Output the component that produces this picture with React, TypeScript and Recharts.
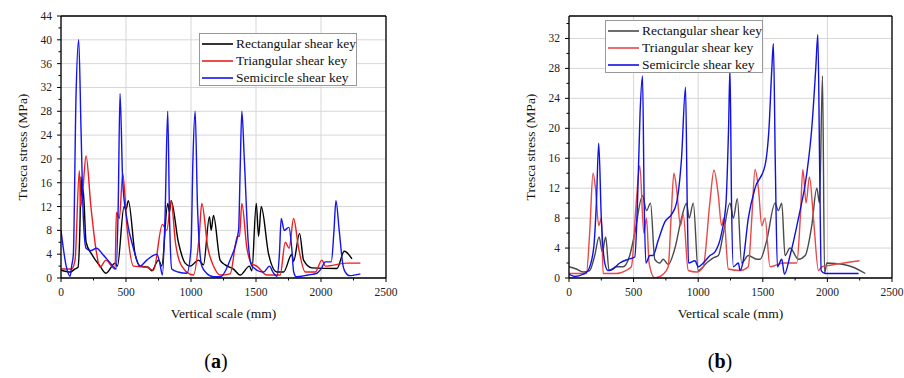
import React from "react";
import {
  LineChart,
  Line,
  XAxis,
  YAxis,
  CartesianGrid,
  ReferenceLine,
} from "recharts";

type Pt = [number, number];

// (a) stress along the vertical scale, mm -> MPa
const rectA: Pt[] = [
  [0, 1.3], [70, 1.0], [106, 1.5], [131, 1.8], [145, 8], [154, 17], [164, 13], [170, 15],
  [193, 6], [236, 4], [300, 2], [346, 0.8], [416, 2.5], [434, 2], [485, 12], [500, 11.5],
  [518, 13], [570, 4], [608, 2], [672, 1.8], [698, 1.2], [750, 3], [775, 2], [821, 12.5],
  [834, 11], [847, 13], [903, 6], [955, 2.5], [993, 2], [1058, 3], [1096, 2.2], [1142, 10.3],
  [1155, 8], [1173, 10.5], [1224, 3], [1263, 2.2], [1327, 1.5], [1378, 0.5], [1450, 2],
  [1468, 1.2], [1502, 12.5], [1520, 7], [1540, 12], [1597, 4], [1661, 1], [1712, 1],
  [1776, 4], [1789, 2.8], [1835, 7.5], [1866, 3], [1930, 1.7], [2123, 1.6], [2179, 4.5],
  [2238, 3.2],
];
const triA: Pt[] = [
  [0, 1.5], [82, 1.5], [108, 3], [141, 18], [152, 12], [165, 14], [193, 20.5], [230, 12],
  [275, 4], [300, 1.8], [346, 3], [390, 2], [416, 1.5], [426, 11], [449, 10], [475, 17.5],
  [510, 8], [557, 2], [660, 1.8], [711, 1.3], [780, 9], [814, 8], [847, 13], [880, 6],
  [929, 2], [1019, 0.5], [1063, 7], [1083, 12.5], [1130, 5], [1173, 2], [1224, 0.5],
  [1301, 0.7], [1358, 7], [1373, 7], [1391, 12.5], [1430, 5], [1468, 2.4], [1506, 2],
  [1584, 0.5], [1686, 0.5], [1725, 6], [1755, 5], [1789, 10], [1828, 5], [1879, 1],
  [1956, 1], [2007, 3], [2033, 2], [2200, 2.5], [2303, 2.5],
];
const semiA: Pt[] = [
  [0, 8], [40, 2], [70, 0.3], [82, 2], [95, 4], [115, 30], [136, 40], [154, 25], [172, 10],
  [193, 5], [230, 4.6], [274, 5], [320, 4], [380, 2.5], [424, 1.5], [440, 12], [454, 31],
  [475, 16], [506, 10], [557, 5], [608, 2], [660, 3], [737, 4], [760, 2.5], [780, 0.5],
  [800, 10], [821, 28], [835, 10], [852, 1.5], [900, 1], [968, 0.8], [1000, 5], [1015, 20],
  [1032, 28], [1050, 12], [1083, 2], [1120, 0.8], [1173, 0.2], [1224, 0.2], [1300, 3],
  [1366, 8], [1378, 18], [1391, 28], [1410, 20], [1440, 6], [1468, 2], [1558, 1],
  [1604, 2], [1630, 1], [1661, 0.3], [1680, 4], [1694, 10], [1717, 8], [1753, 8.5],
  [1775, 5], [1790, 1], [1810, 0.2], [1900, 0.5], [1969, 0.8], [2000, 1.5], [2033, 2.7],
  [2079, 2.7], [2100, 8], [2115, 13], [2140, 8], [2170, 2], [2187, 1], [2220, 0.4],
  [2303, 0.7],
];

// (b)
const rectB: Pt[] = [
  [0, 1.5], [57, 1.2], [109, 0.8], [160, 1], [199, 3], [233, 5.5], [258, 3.5], [284, 5.5],
  [310, 1], [367, 1.5], [419, 1.5], [470, 3], [509, 6], [569, 11], [600, 9], [631, 10],
  [664, 2.5], [703, 2], [729, 2.5], [768, 1.8], [820, 4], [871, 8], [910, 10], [930, 8],
  [962, 10], [1000, 1], [1065, 2], [1117, 2.7], [1156, 3], [1195, 6], [1246, 10], [1272, 8],
  [1303, 10.6], [1336, 2], [1388, 3], [1453, 2.5], [1479, 2.5], [1530, 5], [1595, 10],
  [1620, 9], [1647, 10], [1672, 3], [1711, 4], [1776, 2.5], [1828, 3], [1879, 7],
  [1918, 12], [1939, 10], [1962, 27], [1978, 0.6], [1996, 2], [2125, 1.8], [2190, 1.5],
  [2293, 0.6],
];
const triB: Pt[] = [
  [0, 0.6], [134, 0.6], [160, 6], [186, 14], [205, 12], [230, 7], [251, 8], [264, 0.6],
  [367, 0.6], [440, 1], [483, 1.5], [520, 10], [548, 15], [579, 6], [600, 8], [620, 2],
  [664, 0], [729, 0.5], [768, 1.5], [790, 8], [812, 14], [832, 12], [863, 7], [884, 8.5],
  [923, 1], [987, 0.8], [1039, 1.5], [1090, 10], [1122, 14.4], [1156, 11], [1181, 7],
  [1199, 8], [1233, 1.2], [1324, 1], [1388, 1.5], [1415, 8], [1440, 14.5], [1466, 12],
  [1492, 7], [1517, 8], [1556, 1.5], [1660, 2], [1763, 2], [1790, 8], [1810, 14.5],
  [1835, 10], [1861, 13.5], [1892, 8], [1931, 1], [1957, 1.5], [2021, 1.7], [2249, 2.3],
];
const semiB: Pt[] = [
  [0, 0.5], [44, 0.2], [109, 0.5], [147, 1], [191, 4], [212, 10], [230, 18], [250, 8],
  [277, 2], [302, 1], [341, 1.2], [393, 2], [458, 2.5], [509, 2.8], [530, 10], [550, 22],
  [569, 27], [582, 10], [595, 2], [626, 3], [650, 3], [690, 5], [742, 7.5], [794, 8.5],
  [832, 10], [871, 16], [902, 25.5], [915, 10], [925, 2], [975, 2.3], [1000, 1.5],
  [1039, 2], [1091, 3], [1130, 3.5], [1181, 6], [1215, 10], [1235, 20], [1246, 28],
  [1258, 10], [1272, 1.5], [1311, 2], [1324, 1], [1345, 2], [1388, 8], [1440, 12],
  [1517, 15], [1548, 20], [1570, 28], [1582, 31.3], [1597, 15], [1613, 1.5], [1647, 2.5],
  [1667, 0.5], [1711, 3], [1776, 8], [1841, 14], [1879, 20], [1910, 28], [1926, 32.5],
  [1940, 15], [1952, 1], [1983, 0.6], [2241, 0.6],
];

const seriesNames = ["Rectangular shear key", "Triangular shear key", "Semicircle shear key"];
const xTicks = [0, 500, 1000, 1500, 2000, 2500];
const xMinor = [250, 750, 1250, 1750, 2250];
const yTicksA = [0, 4, 8, 12, 16, 20, 24, 28, 32, 36, 40, 44];
const yMinorA = [2, 6, 10, 14, 18, 22, 26, 30, 34, 38, 42];
const yTicksB = [0, 4, 8, 12, 16, 20, 24, 28, 32];
const yMinorB = [2, 6, 10, 14, 18, 22, 26, 30, 34];

const FONT = '"Liberation Serif", serif';
const toPoints = (pts: Pt[]) => pts.map(([x, y]) => ({ x, y }));

function makeXTick(majors: number[]) {
  return (p: any) => {
    const major = majors.includes(p.payload.value);
    return (
      <g>
        <line x1={p.x} x2={p.x} y1={p.y} y2={p.y + (major ? 4 : 2.5)} stroke="#000" strokeWidth={1} />
        {major && (
          <text x={p.x} y={p.y + 18} textAnchor="middle" fontSize={11.5} fontFamily={FONT} fill="#222">
            {p.payload.value}
          </text>
        )}
      </g>
    );
  };
}

function makeYTick(majors: number[]) {
  return (p: any) => {
    const major = majors.includes(p.payload.value);
    return (
      <g>
        <line x1={p.x} x2={p.x - (major ? 4 : 2.5)} y1={p.y} y2={p.y} stroke="#000" strokeWidth={1} />
        {major && (
          <text x={p.x - 9} y={p.y + 4} textAnchor="end" fontSize={11.5} fontFamily={FONT} fill="#222">
            {p.payload.value}
          </text>
        )}
      </g>
    );
  };
}

type PanelProps = {
  series: Pt[][];
  colors: string[];
  yMax: number;
  yTicks: number[];
  yMinor: number[];
  left: number;
  width: number;
  marginLeft: number;
  marginRight: number;
  legend: { left: number; top: number };
  tag: string;
  tagX: number;
};

function Panel(props: PanelProps) {
  const { series, colors, yMax, yTicks, yMinor, left, width, marginLeft, marginRight, legend, tag, tagX } = props;
  const allX = [...xTicks, ...xMinor].sort((a, b) => a - b);
  const allY = [...yTicks, ...yMinor].filter((v) => v <= yMax).sort((a, b) => a - b);
  return (
    <>
      <div style={{ position: "absolute", left, top: 0 }}>
        <LineChart
          width={width}
          height={330}
          margin={{ top: 16, right: marginRight, bottom: 0, left: marginLeft }}
        >
          <CartesianGrid
            stroke="#d6d6d6"
            strokeWidth={1}
            horizontalValues={yTicks}
            verticalValues={xTicks}
          />
          <XAxis
            dataKey="x"
            type="number"
            domain={[0, 2500]}
            ticks={allX}
            interval={0}
            allowDataOverflow
            height={52}
            tickSize={0}
            tickMargin={0}
            tickLine={false}
            tick={makeXTick(xTicks)}
            axisLine={{ stroke: "#000", strokeWidth: 1.3 }}
            label={{
              value: "Vertical scale (mm)",
              position: "insideBottom",
              offset: 12,
              style: { fontFamily: FONT, fontSize: 13.5, fill: "#111" },
            }}
          />
          <YAxis
            type="number"
            domain={[0, yMax]}
            ticks={allY}
            interval={0}
            allowDataOverflow
            width={61}
            tickSize={0}
            tickMargin={0}
            tickLine={false}
            tick={makeYTick(yTicks)}
            axisLine={{ stroke: "#000", strokeWidth: 1.3 }}
            label={{
              value: "Tresca stress (MPa)",
              angle: -90,
              position: "insideLeft",
              offset: 22,
              style: { fontFamily: FONT, fontSize: 13.5, fill: "#111", textAnchor: "middle" },
            }}
          />
          <ReferenceLine y={yMax} stroke="#000" strokeWidth={1.3} />
          <ReferenceLine x={2500} stroke="#000" strokeWidth={1.3} />
          {series.map((s, i) => (
            <Line
              key={seriesNames[i]}
              name={seriesNames[i]}
              data={toPoints(s)}
              dataKey="y"
              type="monotone"
              stroke={colors[i]}
              strokeWidth={1.4}
              dot={false}
              isAnimationActive={false}
            />
          ))}
        </LineChart>
      </div>
      <div
        style={{
          position: "absolute",
          left: legend.left,
          top: legend.top,
          width: 158,
          height: 53,
          boxSizing: "border-box",
          border: "1px solid #999",
          background: "#fff",
          fontFamily: FONT,
          fontSize: 13.5,
          color: "#111",
          padding: "1px 0 0 2px",
        }}
      >
        {seriesNames.map((n, i) => (
          <div key={n} style={{ display: "flex", alignItems: "center", height: 17, whiteSpace: "nowrap" }}>
            <svg width={31} height={4} style={{ marginRight: 3 }}>
              <line x1={0} x2={31} y1={2} y2={2} stroke={colors[i]} strokeWidth={1.6} />
            </svg>
            {n}
          </div>
        ))}
      </div>
      <div
        style={{
          position: "absolute",
          left: tagX - 30,
          width: 60,
          top: 350,
          textAlign: "center",
          fontFamily: FONT,
          fontSize: 20,
          color: "#000",
        }}
      >
        (<b>{tag}</b>)
      </div>
    </>
  );
}

export default function App() {
  return (
    <div style={{ position: "absolute", left: 0, top: 0, width: 904, height: 378, background: "#fff", overflow: "hidden" }}>
      <Panel
        series={[rectA, triA, semiA]}
        colors={["#000000", "#ee1c1c", "#1414f0"]}
        yMax={44}
        yTicks={yTicksA}
        yMinor={yMinorA}
        left={0}
        width={450}
        marginLeft={0}
        marginRight={64}
        legend={{ left: 199, top: 33 }}
        tag="a"
        tagX={216}
      />
      <Panel
        series={[rectB, triB, semiB]}
        colors={["#4a4a4a", "#e84848", "#1010e6"]}
        yMax={35}
        yTicks={yTicksB}
        yMinor={yMinorB}
        left={452}
        width={452}
        marginLeft={56}
        marginRight={12}
        legend={{ left: 605, top: 20 }}
        tag="b"
        tagX={720}
      />
    </div>
  );
}
